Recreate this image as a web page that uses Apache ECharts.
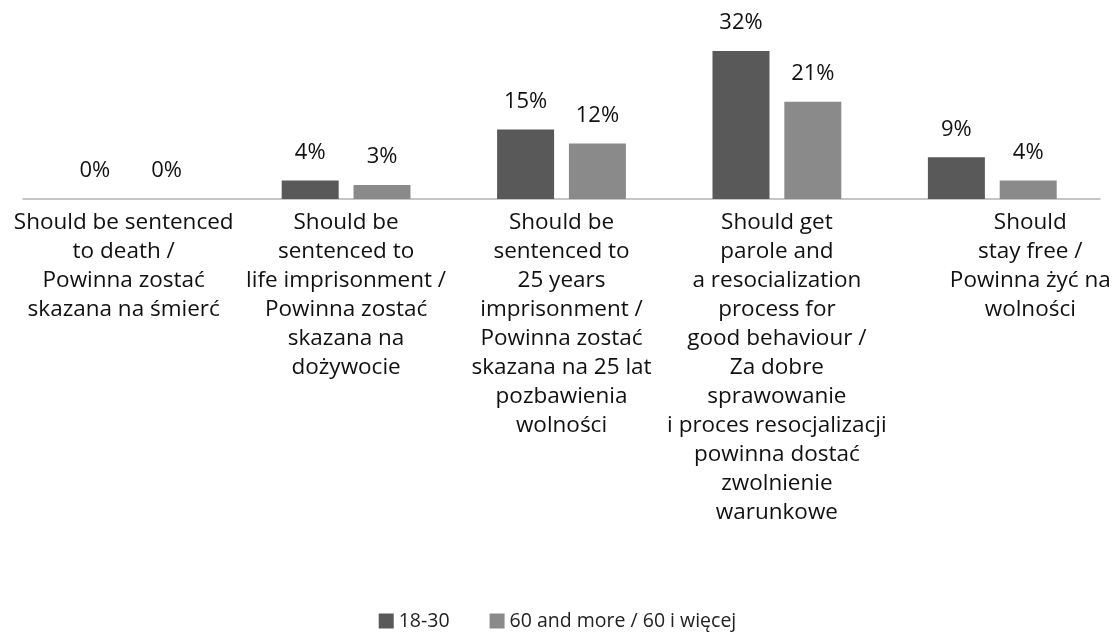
<!DOCTYPE html>
<html><head><meta charset="utf-8">
<script src="https://cdn.jsdelivr.net/npm/echarts@6/dist/echarts.min.js"></script>
<style>html,body{margin:0;padding:0;background:#fff}#c{width:1115px;height:639px}</style>
</head><body><div id="c"></div>
<script>
const categories = [
  "Should be sentenced\nto death /\nPowinna zostać\nskazana na śmierć",
  "Should be\nsentenced to\nlife imprisonment /\nPowinna zostać\nskazana na\ndożywocie",
  "Should be\nsentenced to\n25 years\nimprisonment /\nPowinna zostać\nskazana na 25 lat\npozbawienia\nwolności",
  "Should get\nparole and\na resocialization\nprocess for\ngood behaviour /\nZa dobre\nsprawowanie\ni proces resocjalizacji\npowinna dostać\nzwolnienie\nwarunkowe",
  "Should\nstay free /\nPowinna żyć na\nwolności"
];
const seriesNames = ["18-30", "60 and more / 60 i więcej"];
const young = [0, 4, 15, 32, 9];
const old = [0, 3, 12, 21, 4];
const labelShift = [-7, 0, 0, 0, 38];

const FONT = "Open Sans";
const chart = echarts.init(document.getElementById('c'));
chart.setOption({
  animation: false,
  textStyle: {fontFamily: FONT},
  grid: {left: 23, right: 15, top: 37, height: 162, containLabel: false},
  legend: {
    bottom: 3, left: 'center',
    itemWidth: 15, itemHeight: 15, itemGap: 40,
    icon: 'rect',
    textStyle: {fontFamily: FONT, fontSize: 19.5, color: '#222'},
    data: seriesNames
  },
  xAxis: {
    type: 'category',
    data: categories.map((c, i) => ({
      value: c,
      textStyle: {padding: labelShift[i] >= 0 ? [0, 0, 0, labelShift[i] * 2] : [0, -labelShift[i] * 2, 0, 0]}
    })),
    axisLine: {lineStyle: {color: '#b4b4b4', width: 1.5}},
    axisTick: {show: false},
    axisLabel: {interval: 0, fontFamily: FONT, fontSize: 22.5, color: '#111', lineHeight: 29, margin: 9, verticalAlign: 'top'}
  },
  yAxis: {type: 'value', min: 0, max: 35, show: false, splitLine: {show: false}},
  series: [
    {name: seriesNames[0], type: 'bar', data: young, barWidth: 57, barGap: '26%',
     itemStyle: {color: '#595959'},
     label: {show: true, position: 'top', distance: 17, formatter: '{c}%', fontFamily: FONT, fontSize: 22, color: '#111'}},
    {name: seriesNames[1], type: 'bar', data: old, barWidth: 57,
     itemStyle: {color: '#8a8a8a'},
     label: {show: true, position: 'top', distance: 17, formatter: '{c}%', fontFamily: FONT, fontSize: 22, color: '#111'}}
  ]
});
</script></body></html>
